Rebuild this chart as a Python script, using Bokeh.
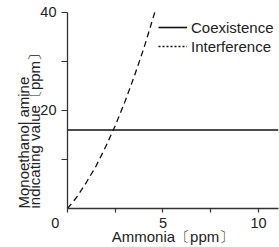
from bokeh.plotting import figure
from bokeh.models import FixedTicker, Legend, LegendItem, Range1d, Title
from bokeh.embed import file_html
from bokeh.resources import INLINE

# data
coex_x = [0.0, 11.05]
coex_y = [16.0, 16.0]
interf_x = [0.0, 0.5, 1.0, 1.5, 2.0, 2.5, 3.0, 3.5, 4.0, 4.6]
interf_y = [0.0, 2.4, 5.4, 8.7, 12.6, 16.9, 21.7, 27.0, 32.7, 40.4]
x_major = [0, 5, 10]
x_minor = [2.5, 7.5]
y_major = [20, 40]
y_minor = [10, 30]
series_names = ["Coexistence", "Interference"]
x_title = "Ammonia〔ppm〕"
y_title_lines = ["Monoethanol amine", "indicating value〔ppm〕"]

FONT = "Liberation Sans"
FS = "15px"
TFS = "14.5px"
AX = "#333333"
TXT = "#222222"

p = figure(width=279, height=247, output_backend="svg", toolbar_location=None,
           x_range=Range1d(0, 11.05), y_range=Range1d(0, 40.8),
           min_border_left=67, min_border_right=1, min_border_top=8, min_border_bottom=38)
p.outline_line_color = None
p.grid.visible = False
p.background_fill_color = "white"

for ax in (p.xaxis[0], p.yaxis[0]):
    ax.axis_line_color = AX
    ax.axis_line_width = 1.3
    ax.major_tick_line_color = AX
    ax.minor_tick_line_color = AX
    ax.major_tick_line_width = 1.2
    ax.minor_tick_line_width = 1.2
    ax.major_tick_in = 0
    ax.minor_tick_in = 0
    ax.major_label_text_font = FONT
    ax.major_label_text_font_size = TFS
    ax.major_label_text_color = TXT

xa, ya = p.xaxis[0], p.yaxis[0]
xa.ticker = FixedTicker(ticks=x_major, minor_ticks=x_minor)
ya.ticker = FixedTicker(ticks=y_major, minor_ticks=y_minor)
xa.bounds = (0, 11.05)
ya.bounds = (0, 40)
xa.major_tick_out = 4
xa.minor_tick_out = 4
ya.major_tick_out = 6
ya.minor_tick_out = 6
xa.major_label_standoff = 2
ya.major_label_standoff = 5
# origin label shared by both axes sits left of the corner
xa.major_label_overrides = {0: "0\u2002\u2002\u2002\u2009"}
xa.axis_label = x_title
xa.axis_label_text_font = FONT
xa.axis_label_text_font_size = FS
xa.axis_label_text_font_style = "normal"
xa.axis_label_text_color = TXT
xa.axis_label_text_line_height = 0.9
xa.axis_label_standoff = -6

for text, standoff in ((y_title_lines[1], -10), (y_title_lines[0], -6)):
    p.add_layout(Title(text=text, align="left", text_font=FONT, text_font_size=FS,
                       text_font_style="normal", text_color=TXT, standoff=standoff),
                 "left")

r_coex = p.line(coex_x, coex_y, line_color="#111111", line_width=1.6)
p.line(interf_x, interf_y, line_color="#111111", line_width=1.3, line_dash="6 4")
r_leg = p.line(x=[float("nan")], y=[float("nan")], line_color="#111111",
               line_width=1.3, line_dash="2 2")

legend = Legend(items=[LegendItem(label=series_names[0], renderers=[r_coex]),
                       LegendItem(label=series_names[1], renderers=[r_leg])],
                location=(91, 153), glyph_width=29, glyph_height=18, label_height=18,
                spacing=1, padding=0, margin=0, label_standoff=4,
                border_line_alpha=0, background_fill_alpha=0,
                label_text_font=FONT, label_text_font_size=FS, label_text_color=TXT)
p.add_layout(legend)

open("out.html", "w").write(file_html(p, INLINE))
